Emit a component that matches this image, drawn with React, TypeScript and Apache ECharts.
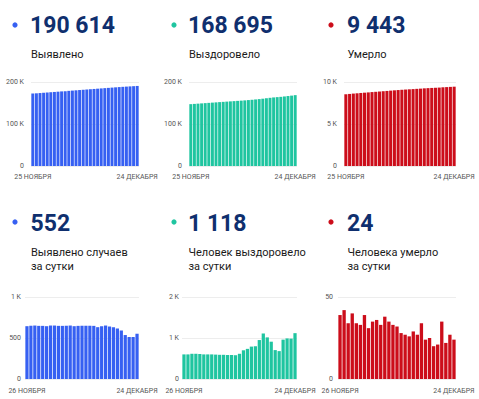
import React, { useEffect, useRef } from "react";
import * as echarts from "echarts";

// ---- DATA ----
const totalDates = [
  "25 НОЯБРЯ", "26 НОЯБРЯ", "27 НОЯБРЯ", "28 НОЯБРЯ", "29 НОЯБРЯ", "30 НОЯБРЯ",
  "1 ДЕКАБРЯ", "2 ДЕКАБРЯ", "3 ДЕКАБРЯ", "4 ДЕКАБРЯ", "5 ДЕКАБРЯ", "6 ДЕКАБРЯ",
  "7 ДЕКАБРЯ", "8 ДЕКАБРЯ", "9 ДЕКАБРЯ", "10 ДЕКАБРЯ", "11 ДЕКАБРЯ", "12 ДЕКАБРЯ",
  "13 ДЕКАБРЯ", "14 ДЕКАБРЯ", "15 ДЕКАБРЯ", "16 ДЕКАБРЯ", "17 ДЕКАБРЯ", "18 ДЕКАБРЯ",
  "19 ДЕКАБРЯ", "20 ДЕКАБРЯ", "21 ДЕКАБРЯ", "22 ДЕКАБРЯ", "23 ДЕКАБРЯ", "24 ДЕКАБРЯ",
];
const dailyDates = [
  "26 НОЯБРЯ", "27 НОЯБРЯ", "28 НОЯБРЯ", "29 НОЯБРЯ", "30 НОЯБРЯ",
  "1 ДЕКАБРЯ", "2 ДЕКАБРЯ", "3 ДЕКАБРЯ", "4 ДЕКАБРЯ", "5 ДЕКАБРЯ", "6 ДЕКАБРЯ",
  "7 ДЕКАБРЯ", "8 ДЕКАБРЯ", "9 ДЕКАБРЯ", "10 ДЕКАБРЯ", "11 ДЕКАБРЯ", "12 ДЕКАБРЯ",
  "13 ДЕКАБРЯ", "14 ДЕКАБРЯ", "15 ДЕКАБРЯ", "16 ДЕКАБРЯ", "17 ДЕКАБРЯ", "18 ДЕКАБРЯ",
  "19 ДЕКАБРЯ", "20 ДЕКАБРЯ", "21 ДЕКАБРЯ", "22 ДЕКАБРЯ", "23 ДЕКАБРЯ", "24 ДЕКАБРЯ",
];

const casesTotal = [
  172426, 173070, 173718, 174370, 175018, 175666, 176310, 176962, 177614, 178262,
  178910, 179558, 180210, 180854, 181502, 182150, 182798, 183446, 184094, 184726,
  185370, 186022, 186662, 187294, 187910, 188502, 189038, 189550, 190062, 190614,
];
const recoveredTotal = [
  147267, 147867, 148467, 149082, 149697, 150307, 150907, 151507, 152107, 152702,
  153292, 153882, 154467, 155052, 155632, 156247, 156947, 157682, 158472, 159272,
  160222, 161332, 162347, 163257, 163962, 164642, 165602, 166592, 167577, 168695,
];
const deathsTotal = [
  8540, 8579, 8621, 8655, 8695, 8729, 8762, 8801, 8832, 8867,
  8903, 8936, 8974, 9009, 9042, 9074, 9102, 9129, 9155, 9184,
  9211, 9245, 9269, 9294, 9314, 9335, 9370, 9392, 9419, 9443,
];
const casesDaily = [
  644, 648, 652, 648, 648, 644, 652, 652, 648, 648, 648, 652, 644, 648, 648,
  648, 648, 648, 632, 644, 652, 640, 632, 616, 592, 536, 512, 512, 552,
];
const recoveredDaily = [
  600, 600, 615, 615, 610, 600, 600, 600, 595, 590, 590, 585, 585, 580, 615,
  700, 735, 790, 800, 950, 1110, 1015, 910, 705, 680, 960, 990, 985, 1118,
];
const deathsDaily = [
  39, 42, 34, 40, 34, 33, 39, 31, 35, 36, 33, 38, 35, 33, 32,
  28, 27, 26, 29, 27, 34, 24, 25, 20, 21, 35, 22, 27, 24,
];

const headlineNumbers = ["190 614", "168 695", "9 443", "552", "1 118", "24"];
const titleLines = [
  ["Выявлено"],
  ["Выздоровело"],
  ["Умерло"],
  ["Выявлено случаев", "за сутки"],
  ["Человек выздоровело", "за сутки"],
  ["Человека умерло", "за сутки"],
];
const yMax = [200000, 200000, 10000, 1000, 2000, 50];
const yInterval = [100000, 100000, 5000, 500, 1000, 50];

const BLUE = "#3660f2";
const TEAL = "#1fc5a0";
const RED = "#cc0d1a";
const NAVY = "#0f2f6e";

const panels = [
  { data: casesTotal, cats: totalDates, color: BLUE, dot: [15, 25], num: [30, 25], title: [31, 54], grid: [31, 82, 108, 84], yMargin: 7, xMargin: 7 },
  { data: recoveredTotal, cats: totalDates, color: TEAL, dot: [174, 25], num: [188, 25], title: [189, 54], grid: [189, 82, 108, 84], yMargin: 7, xMargin: 7 },
  { data: deathsTotal, cats: totalDates, color: RED, dot: [331, 25], num: [347, 25], title: [347.5, 54], grid: [344, 82, 112, 84], yMargin: 7, xMargin: 7 },
  { data: casesDaily, cats: dailyDates, color: BLUE, dot: [15, 222], num: [30.5, 223.5], title: [31, 252.8], grid: [25, 297, 114, 82], yMargin: 4, xMargin: 8 },
  { data: recoveredDaily, cats: dailyDates, color: TEAL, dot: [174, 222], num: [188, 223.5], title: [188.5, 252.8], grid: [182, 297, 115, 82], yMargin: 3, xMargin: 8 },
  { data: deathsDaily, cats: dailyDates, color: RED, dot: [331, 222], num: [347, 223.5], title: [347.5, 252.8], grid: [338, 297, 118, 82], yMargin: 5, xMargin: 8 },
];

const kfmt = (v: number) => (v === 0 ? "0" : v >= 1000 ? v / 1000 + " K" : String(v));

export default function App() {
  const ref = useRef<HTMLDivElement>(null);
  useEffect(() => {
    if (!ref.current) return;
    const chart = echarts.init(ref.current, undefined, { renderer: "svg" });
    const graphic: any[] = [];
    panels.forEach((p, i) => {
      graphic.push({
        type: "circle",
        shape: { cx: p.dot[0], cy: p.dot[1], r: 2.6 },
        style: { fill: p.color },
      });
      graphic.push({
        type: "text",
        x: p.num[0],
        y: p.num[1],
        style: {
          text: headlineNumbers[i],
          font: "bold 23px Roboto",
          fill: NAVY,
          textVerticalAlign: "middle",
        },
      });
      titleLines[i].forEach((line, j) => {
        graphic.push({
          type: "text",
          x: p.title[0],
          y: p.title[1] + j * 14,
          style: {
            text: line,
            font: "11px Roboto",
            fill: "#1a1a1a",
            textVerticalAlign: "middle",
          },
        });
      });
    });

    chart.setOption({
      animation: false,
      backgroundColor: "#ffffff",
      graphic,
      grid: panels.map((p) => ({
        left: p.grid[0],
        top: p.grid[1],
        width: p.grid[2],
        height: p.grid[3],
      })),
      xAxis: panels.map((p, i) => ({
        type: "category",
        gridIndex: i,
        data: p.cats,
        axisLine: { show: false },
        axisTick: { show: false },
        axisLabel: {
          interval: (idx: number) => idx === 0 || idx === p.cats.length - 1,
          fontSize: 7,
          fontFamily: "Roboto",
          color: "#555",
          margin: p.xMargin,
        },
      })),
      yAxis: panels.map((p, i) => ({
        type: "value",
        gridIndex: i,
        min: 0,
        max: yMax[i],
        interval: yInterval[i],
        axisLine: { show: false },
        axisTick: { show: false },
        splitLine: { lineStyle: { color: "#ededed", width: 1 } },
        axisLabel: {
          fontSize: 7,
          fontFamily: "Roboto",
          color: "#555",
          margin: p.yMargin,
          formatter: kfmt,
        },
      })),
      series: panels.map((p, i) => ({
        type: "bar",
        xAxisIndex: i,
        yAxisIndex: i,
        data: p.data,
        barCategoryGap: "18%",
        itemStyle: { color: p.color },
      })),
    });
    return () => chart.dispose();
  }, []);
  return (
    <div
      ref={ref}
      style={{ position: "absolute", left: 0, top: 0, width: 479, height: 399 }}
    />
  );
}
